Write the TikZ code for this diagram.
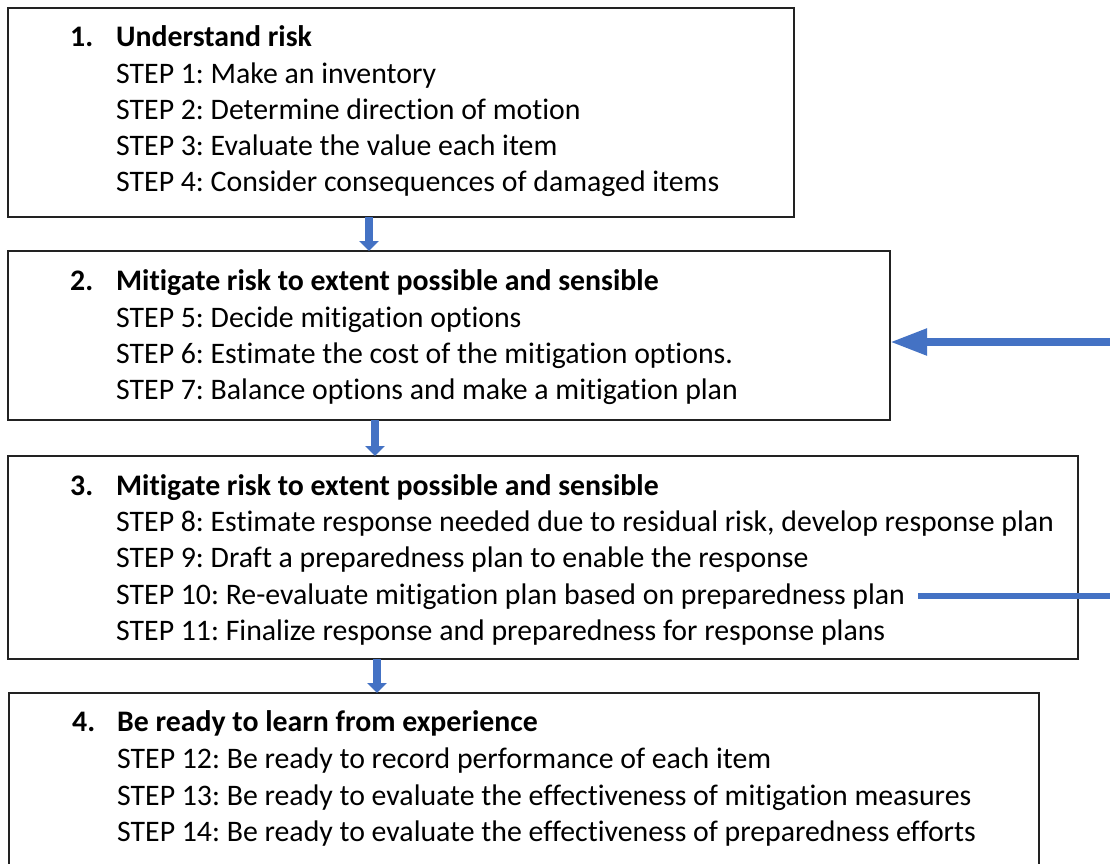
\documentclass[tikz,border=0pt]{standalone}
\usepackage{fontspec}
\setmainfont{Carlito}[Ligatures={NoCommon}]
\usetikzlibrary{arrows.meta}
\definecolor{arrblue}{HTML}{4472C4}
\definecolor{boxline}{HTML}{222222}
\tikzset{
  box/.style={draw=boxline, line width=1.3pt, inner sep=0pt, outer sep=0pt, anchor=north west},
  txt/.style={anchor=base west, inner sep=0pt, font=\fontsize{29.8}{34}\selectfont},
  hd/.style={txt, font=\fontsize{29.8}{34}\selectfont\bfseries},
  varrow/.style={draw=arrblue, line width=8pt, -{Triangle[width=19pt,length=10pt]}},
  harrow/.style={draw=arrblue, line width=8pt, -{Triangle[width=25pt,length=37pt]}},
  fbline/.style={draw=arrblue, line width=6pt}
}
\frenchspacing
\begin{document}
\begin{tikzpicture}[x=1pt,y=-1pt]
\clip (0,0) rectangle (1110,863);
\fill[white] (0,0) rectangle (1110,863);
% boxes
\node[box, minimum width=786pt, minimum height=209pt] (b1) at (8,8) {};
\node[box, minimum width=882pt, minimum height=169pt] (b2) at (8,251) {};
\node[box, minimum width=1070pt, minimum height=203pt] (b3) at (8,456) {};
\node[box, minimum width=1030pt, minimum height=220pt] (b4) at (9,693) {};
% box 1 text
\node[hd] (n1) at (70,46) {1.};
\node[hd] (h1) at (116,46) {Understand risk};
\node[txt] (t1a) at (116,83) {STEP 1: Make an inventory};
\node[txt] (t1b) at (116,119) {STEP 2: Determine direction of motion};
\node[txt] (t1c) at (116,155) {STEP 3: Evaluate the value each item};
\node[txt] (t1d) at (116,191) {STEP 4: Consider consequences of damaged items};
% box 2 text
\node[hd] (n2) at (70,290) {2.};
\node[hd] (h2) at (116,290) {Mitigate risk to extent possible and sensible};
\node[txt] (t2a) at (116,327) {STEP 5: Decide mitigation options};
\node[txt] (t2b) at (116,363) {STEP 6: Estimate the cost of the mitigation options.};
\node[txt] (t2c) at (116,399) {STEP 7: Balance options and make a mitigation plan};
% box 3 text
\node[hd] (n3) at (70,495) {3.};
\node[hd] (h3) at (116,495) {Mitigate risk to extent possible and sensible};
\node[txt] (t3a) at (116,531) {STEP 8: Estimate response needed due to residual risk, develop response plan};
\node[txt] (t3b) at (116,567) {STEP 9: Draft a preparedness plan to enable the response};
\node[txt] (t3c) at (116,604) {STEP 10: Re-evaluate mitigation plan based on preparedness plan};
\node[txt] (t3d) at (116,640) {STEP 11: Finalize response and preparedness for response plans};
% box 4 text
\node[hd] (n4) at (72,731) {4.};
\node[hd] (h4) at (117,731) {Be ready to learn from experience};
\node[txt] (t4a) at (117,768) {STEP 12: Be ready to record performance of each item};
\node[txt] (t4b) at (117,805) {STEP 13: Be ready to evaluate the effectiveness of mitigation measures};
\node[txt] (t4c) at (117,841) {STEP 14: Be ready to evaluate the effectiveness of preparedness efforts};
% down arrows
\draw[varrow] ([xshift=361pt]b1.south west) -- ([xshift=361pt]b1.south west |- b2.north);
\draw[varrow] ([xshift=367pt]b2.south west) -- ([xshift=367pt]b2.south west |- b3.north);
\draw[varrow] ([xshift=369pt]b3.south west) -- ([xshift=369pt]b3.south west |- b4.north);
% feedback loop
\coordinate (fb2) at (1130,342);
\draw[fbline] ([xshift=13pt]t3c.east) -| (fb2);
\draw[harrow] (fb2) -- (fb2 -| b2.east);
\end{tikzpicture}
\end{document}
